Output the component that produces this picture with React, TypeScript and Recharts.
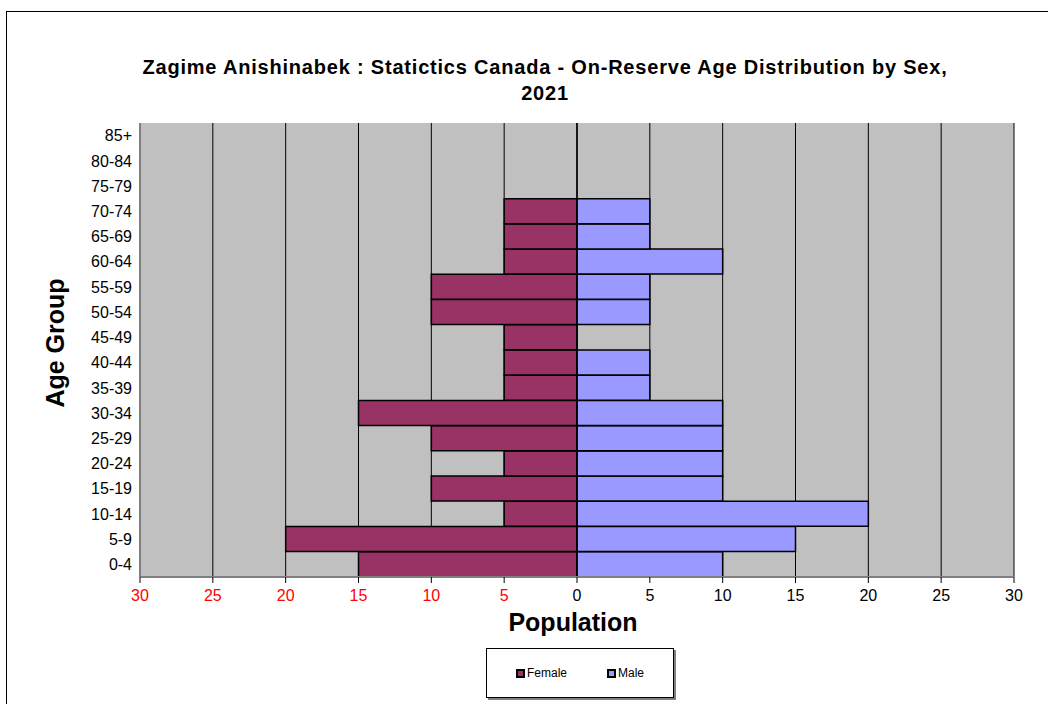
import React from 'react';
import {
  BarChart,
  Bar,
  XAxis,
  YAxis,
  CartesianGrid,
  ReferenceLine,
} from 'recharts';

const ageGroups = [
  '0-4', '5-9', '10-14', '15-19', '20-24', '25-29', '30-34', '35-39', '40-44',
  '45-49', '50-54', '55-59', '60-64', '65-69', '70-74', '75-79', '80-84', '85+',
];
const femaleCounts = [15, 20, 5, 10, 5, 10, 15, 5, 5, 5, 10, 10, 5, 5, 5, 0, 0, 0];
const maleCounts = [10, 15, 20, 10, 10, 10, 10, 5, 5, 0, 5, 5, 10, 5, 5, 0, 0, 0];
const xTicks = [-30, -25, -20, -15, -10, -5, 0, 5, 10, 15, 20, 25, 30];

const FEMALE = '#993366';
const MALE = '#9999FF';
const FONT = '"Liberation Sans", Arial, sans-serif';

const data = ageGroups.map((age, i) => ({
  age,
  female: -femaleCounts[i],
  male: maleCounts[i],
}));

const XTick = (props: any) => {
  const { x, y, payload } = props;
  const v = payload.value as number;
  return (
    <text
      x={x}
      y={y}
      dy={16}
      textAnchor="middle"
      fontSize={16}
      fontFamily={FONT}
      fill={v < 0 ? '#FF0000' : '#000000'}
    >
      {Math.abs(v)}
    </text>
  );
};

const LegendBox = () => (
  <div
    style={{
      width: 188,
      height: 50,
      border: '1px solid #000',
      boxShadow: '2px 2px 0 #808080',
      background: '#fff',
      display: 'flex',
      alignItems: 'center',
      justifyContent: 'center',
      gap: 40,
      fontFamily: FONT,
      fontSize: 12,
      boxSizing: 'border-box',
    }}
  >
    {[
      { name: 'Female', color: FEMALE },
      { name: 'Male', color: MALE },
    ].map((item) => (
      <span key={item.name} style={{ display: 'flex', alignItems: 'center' }}>
        <span
          style={{
            width: 5,
            height: 5,
            background: item.color,
            border: '2px solid #000',
            display: 'inline-block',
            marginRight: 2,
          }}
        />
        {item.name}
      </span>
    ))}
  </div>
);

export default function App() {
  return (
    <div style={{ position: 'relative', width: 1048, height: 704, background: '#fff', overflow: 'hidden' }}>
      <style>{`body{margin:0}`}</style>
      <div
        style={{
          position: 'absolute',
          left: 6,
          top: 11,
          width: 1100,
          height: 800,
          borderLeft: '1px solid #000',
          borderTop: '1px solid #000',
        }}
      />
      <div
        style={{
          position: 'absolute',
          left: 0,
          width: 1090,
          top: 54,
          textAlign: 'center',
          fontFamily: FONT,
          fontWeight: 'bold',
          fontSize: 20,
          letterSpacing: 0.8,
          lineHeight: '26px',
        }}
      >
        Zagime Anishinabek : Statictics Canada - On-Reserve Age Distribution by Sex,
        <br />
        2021
      </div>
      <div
        style={{
          position: 'absolute',
          left: 55,
          top: 343,
          transform: 'translate(-50%, -50%) rotate(-90deg)',
          fontFamily: FONT,
          fontWeight: 'bold',
          fontSize: 25,
          whiteSpace: 'nowrap',
        }}
      >
        Age Group
      </div>
      <div
        style={{
          position: 'absolute',
          left: 573,
          top: 622,
          transform: 'translate(-50%, -50%)',
          fontFamily: FONT,
          fontWeight: 'bold',
          fontSize: 25,
          whiteSpace: 'nowrap',
        }}
      >
        Population
      </div>
      <div style={{ position: 'absolute', left: 0, top: 0 }}>
        <BarChart
          width={1048}
          height={704}
          data={data}
          layout="vertical"
          stackOffset="sign"
          barCategoryGap={0}
          barGap={0}
          margin={{ top: 123, right: 34, left: 80, bottom: 97 }}
        >
          <CartesianGrid
            horizontal={false}
            vertical
            stroke="#000"
            fill="#C0C0C0"
            fillOpacity={1}
          />
          <XAxis
            type="number"
            domain={[-30, 30]}
            ticks={xTicks}
            interval={0}
            height={30}
            axisLine={{ stroke: '#808080', strokeWidth: 2 }}
            tickLine={{ stroke: '#000' }}
            tickSize={6}
            tick={<XTick />}
          />
          <XAxis
            xAxisId="top"
            orientation="top"
            type="number"
            domain={[-30, 30]}
            height={0}
            tick={false}
            tickLine={false}
            axisLine={{ stroke: '#808080', strokeWidth: 2 }}
          />
          <YAxis
            type="category"
            dataKey="age"
            reversed
            width={60}
            interval={0}
            tickLine={false}
            axisLine={{ stroke: '#808080', strokeWidth: 2 }}
            tick={{ fill: '#000', fontSize: 16, fontFamily: FONT }}
          />
          <YAxis
            yAxisId="right"
            orientation="right"
            type="category"
            dataKey="age"
            reversed
            width={0}
            tick={false}
            tickLine={false}
            axisLine={{ stroke: '#808080', strokeWidth: 2 }}
          />
          <ReferenceLine x={0} stroke="#000" strokeWidth={1.5} />
          <Bar
            dataKey="female"
            name="Female"
            stackId="a"
            fill={FEMALE}
            stroke="#000"
            strokeWidth={1.5}
            isAnimationActive={false}
          />
          <Bar
            dataKey="male"
            name="Male"
            stackId="a"
            fill={MALE}
            stroke="#000"
            strokeWidth={1.5}
            isAnimationActive={false}
          />
        </BarChart>
      </div>
      <div style={{ position: 'absolute', left: 486, top: 648 }}>
        <LegendBox />
      </div>
    </div>
  );
}
